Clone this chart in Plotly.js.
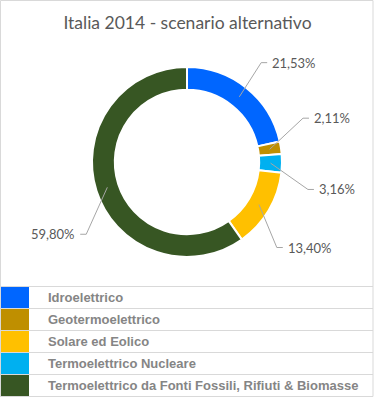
<!DOCTYPE html>
<html>
<head>
<meta charset="utf-8">
<script src="https://cdn.plot.ly/plotly-3.0.1.min.js"></script>
<style>html,body{margin:0;padding:0;background:#fff}#chart{width:375px;height:397px}</style>
</head>
<body>
<div id="chart"></div>
<script>
// ---- data ----
var sliceLabels = ["Idroelettrico", "Geotermoelettrico", "Termoelettrico Nucleare", "Solare ed Eolico", "Termoelettrico da Fonti Fossili, Rifiuti & Biomasse"];
var sliceValues = [21.53, 2.11, 3.16, 13.40, 59.80];
var sliceColors = ["#0066FF", "#BF8F00", "#00B0F0", "#FFC000", "#375623"];
var legendOrder = ["Idroelettrico", "Geotermoelettrico", "Solare ed Eolico", "Termoelettrico Nucleare", "Termoelettrico da Fonti Fossili, Rifiuti & Biomasse"];
var titleText = "Italia 2014 - scenario alternativo";

// ---- layout settings (positions / styles) ----
var W = 375, H = 397;
var cx = 187, cy = 162, R = 95, hole = 0.76;
var labelAngleShift = [-2, -12, 12, 13, -18];
var labelRadius = 124;
var legendTop = 286.5, rowH = 22, swatchW = 29, legendTextX = 46;

function px(x){ return x / W; }
function py(y){ return 1 - y / H; }

var total = sliceValues.reduce(function(a,b){return a+b;}, 0);
var shapes = [], annotations = [];
var cum = 0;
var rMid = (R + R*hole) / 2;
sliceValues.forEach(function(v, i){
  var mid = (cum + v/2) / total * 360;
  cum += v;
  var a0 = mid * Math.PI/180;
  var x0 = cx + rMid*Math.sin(a0), y0 = cy - rMid*Math.cos(a0);
  var a1 = (mid + labelAngleShift[i]) * Math.PI/180;
  var x1 = cx + labelRadius*Math.sin(a1), y1 = cy - labelRadius*Math.cos(a1);
  var right = Math.sin(a1) >= 0;
  var x2 = x1 + (right ? 6 : -6);
  shapes.push({type:'path', xref:'paper', yref:'paper',
    path: 'M'+px(x0)+','+py(y0)+' L'+px(x1)+','+py(y1)+' L'+px(x2)+','+py(y1),
    line:{color:'#A6A6A6', width:1}});
  annotations.push({xref:'paper', yref:'paper', x:px(x1 + (right?9:-9)), y:py(y1),
    xanchor: right?'left':'right', yanchor:'middle', showarrow:false,
    text: v.toFixed(2).replace('.', ',') + '%',
    font:{family:'Lato, "Open Sans", sans-serif', size:13, color:'#595959'}});
});

// legend table
legendOrder.forEach(function(name, k){
  var idx = sliceLabels.indexOf(name);
  var top = legendTop + k*rowH;
  shapes.push({type:'rect', xref:'paper', yref:'paper', x0:0, x1:px(swatchW), y0:py(top+rowH), y1:py(top),
    fillcolor:sliceColors[idx], line:{width:0}});
  annotations.push({xref:'paper', yref:'paper', x:px(legendTextX), y:py(top + rowH/2), xanchor:'left', yanchor:'middle',
    showarrow:false, text:'<b>' + name + '</b>', font:{family:'"Liberation Sans", Arial, sans-serif', size:13, color:'#858585'}});
});
for (var k = 0; k <= legendOrder.length; k++) {
  var yy = legendTop + k*rowH;
  shapes.push({type:'line', xref:'paper', yref:'paper', x0:0, x1:px(373), y0:py(yy), y1:py(yy), line:{color:'#D9D9D9', width:1}});
}
// outer border
shapes.push({type:'rect', xref:'paper', yref:'paper', x0:px(0.5), x1:px(373), y0:py(396.5), y1:py(0.5), line:{color:'#D9D9D9', width:1}});

var trace = {
  type:'pie', labels:sliceLabels, values:sliceValues, hole:hole, sort:false, direction:'clockwise', rotation:0,
  marker:{colors:sliceColors, line:{color:'#FFFFFF', width:2}},
  textinfo:'none', hoverinfo:'label+percent', showlegend:false,
  domain:{x:[px(cx-R), px(cx+R)], y:[py(cy+R), py(cy-R)]}
};

var layout = {
  width:W, height:H, margin:{l:0, r:0, t:0, b:0},
  paper_bgcolor:'#FFFFFF', showlegend:false, separators:',.',
  title:{text:titleText, x:0.5, xanchor:'center', y:py(23), yanchor:'middle', yref:'container',
    font:{family:'Lato, "Open Sans", sans-serif', size:17.5, color:'#595959'}},
  shapes:shapes, annotations:annotations
};
Plotly.newPlot('chart', [trace], layout, {staticPlot:true, displayModeBar:false});
</script>
</body>
</html>
